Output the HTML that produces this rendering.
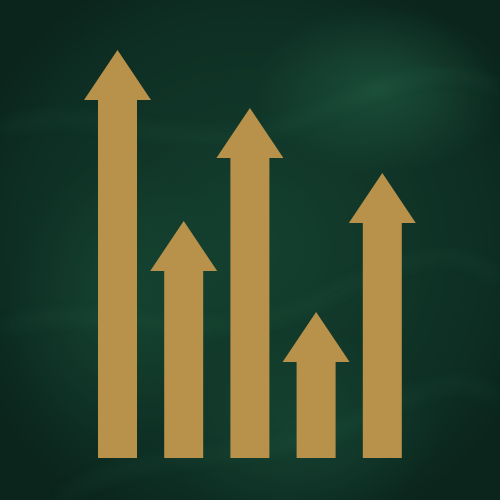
<!DOCTYPE html>
<html><head><meta charset="utf-8">
<style>
html,body{margin:0;padding:0;width:500px;height:500px;overflow:hidden;background:#10342a}
#bg{position:absolute;left:0;top:0;width:500px;height:500px;
background:
radial-gradient(ellipse 180px 120px at 380px 90px, rgba(40,110,80,0.45), rgba(0,0,0,0) 70%),
radial-gradient(ellipse 160px 200px at 120px 300px, rgba(30,90,65,0.35), rgba(0,0,0,0) 70%),
radial-gradient(ellipse 200px 140px at 300px 430px, rgba(30,95,70,0.35), rgba(0,0,0,0) 70%),
radial-gradient(ellipse 300px 300px at 250px 250px, #14412f, #0e2e23 80%, #0b251c 100%);}
svg{position:absolute;left:0;top:0}
</style></head>
<body>
<div id="bg"></div>
<svg id="chart" width="500" height="500">
  <g opacity="0.12" fill="none" stroke="#5fbf95" stroke-width="6">
    <path d="M0,130 C100,90 180,170 300,120 S450,60 500,90" filter="url(#blur)"/>
    <path d="M0,330 C80,290 200,360 320,300 S460,250 500,280" filter="url(#blur)"/>
    <path d="M60,500 C140,440 260,470 360,420 S470,380 500,400" filter="url(#blur)"/>
  </g>
  <defs><filter id="blur"><feGaussianBlur stdDeviation="8"/></filter></defs>
  <g id="arrows"></g>
</svg>
<script>
const categories = ["A","B","C","D","E"];
const values = [408, 237, 350, 146, 285];

const baseY = 458, x0 = 98, step = 66.2, shaftW = 39, headHalf = 33.5, headH = 50;
function yScale(v){ return baseY - v; }
function xScale(i){ return x0 + i*step; }

const g = document.getElementById('arrows');
const NS = "http://www.w3.org/2000/svg";
categories.forEach((c,i)=>{
  const x = xScale(i), tip = yScale(values[i]), cx = x + shaftW/2, hb = tip + headH;
  const p = document.createElementNS(NS,'polygon');
  p.setAttribute('points',
    `${x},${baseY} ${x},${hb} ${cx-headHalf},${hb} ${cx},${tip} ${cx+headHalf},${hb} ${x+shaftW},${hb} ${x+shaftW},${baseY}`);
  p.setAttribute('fill','#b8914a');
  
  
  g.appendChild(p);
});
</script>
</body></html>
